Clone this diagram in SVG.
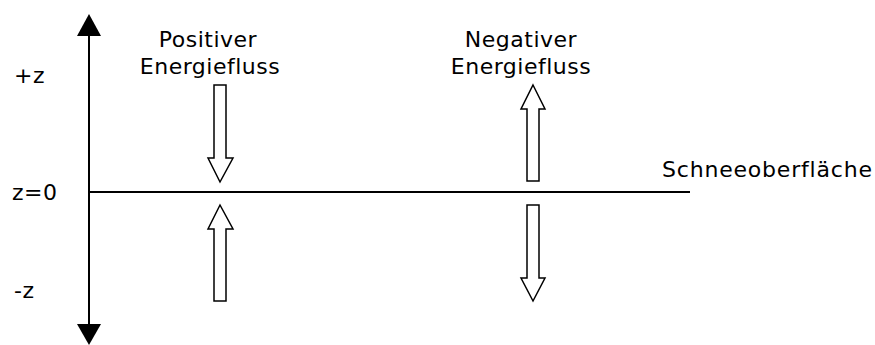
<svg xmlns="http://www.w3.org/2000/svg" width="875" height="345" viewBox="0 0 875 345">
<style>
text{font-family:"DejaVu Sans",Verdana,sans-serif;font-size:22px;letter-spacing:0.5px;fill:#000}
.ax{stroke:#000;stroke-width:2;fill:none}
.ha{fill:#fff;stroke:#000;stroke-width:1.5;stroke-linejoin:miter}
</style>
<rect width="875" height="345" fill="#fff"/>
<g id="connectors">
<line class="ax" x1="89" y1="30" x2="89" y2="330"/>
<polygon points="89,14 77,36 101,36" fill="#000"/>
<polygon points="89,345 77,324 101,324" fill="#000"/>
<line class="ax" x1="89" y1="192" x2="690" y2="192"/>
</g>
<g id="labels">
<text x="14" y="83">+z</text>
<text x="12" y="200">z=0</text>
<text x="14" y="298">-z</text>
<text x="662" y="177" style="letter-spacing:0.8px">Schneeoberfläche</text>
</g>
<g id="positive">
<text x="208" y="47" text-anchor="middle">Positiver</text>
<text x="210" y="74" text-anchor="middle">Energiefluss</text>
<polygon class="ha" points="214,85 226,85 226,158 233,158 220,182 208,158 214,158"/>
<polygon class="ha" points="220,205 233,229 226,229 226,301 214,301 214,229 208,229"/>
</g>
<g id="negative">
<text x="521" y="47" text-anchor="middle">Negativer</text>
<text x="521" y="74" text-anchor="middle">Energiefluss</text>
<polygon class="ha" points="533,85 545,109 539,109 539,181 527,181 527,109 521,109"/>
<polygon class="ha" points="527,205 539,205 539,278 545,278 533,301 521,278 527,278"/>
</g>
</svg>
